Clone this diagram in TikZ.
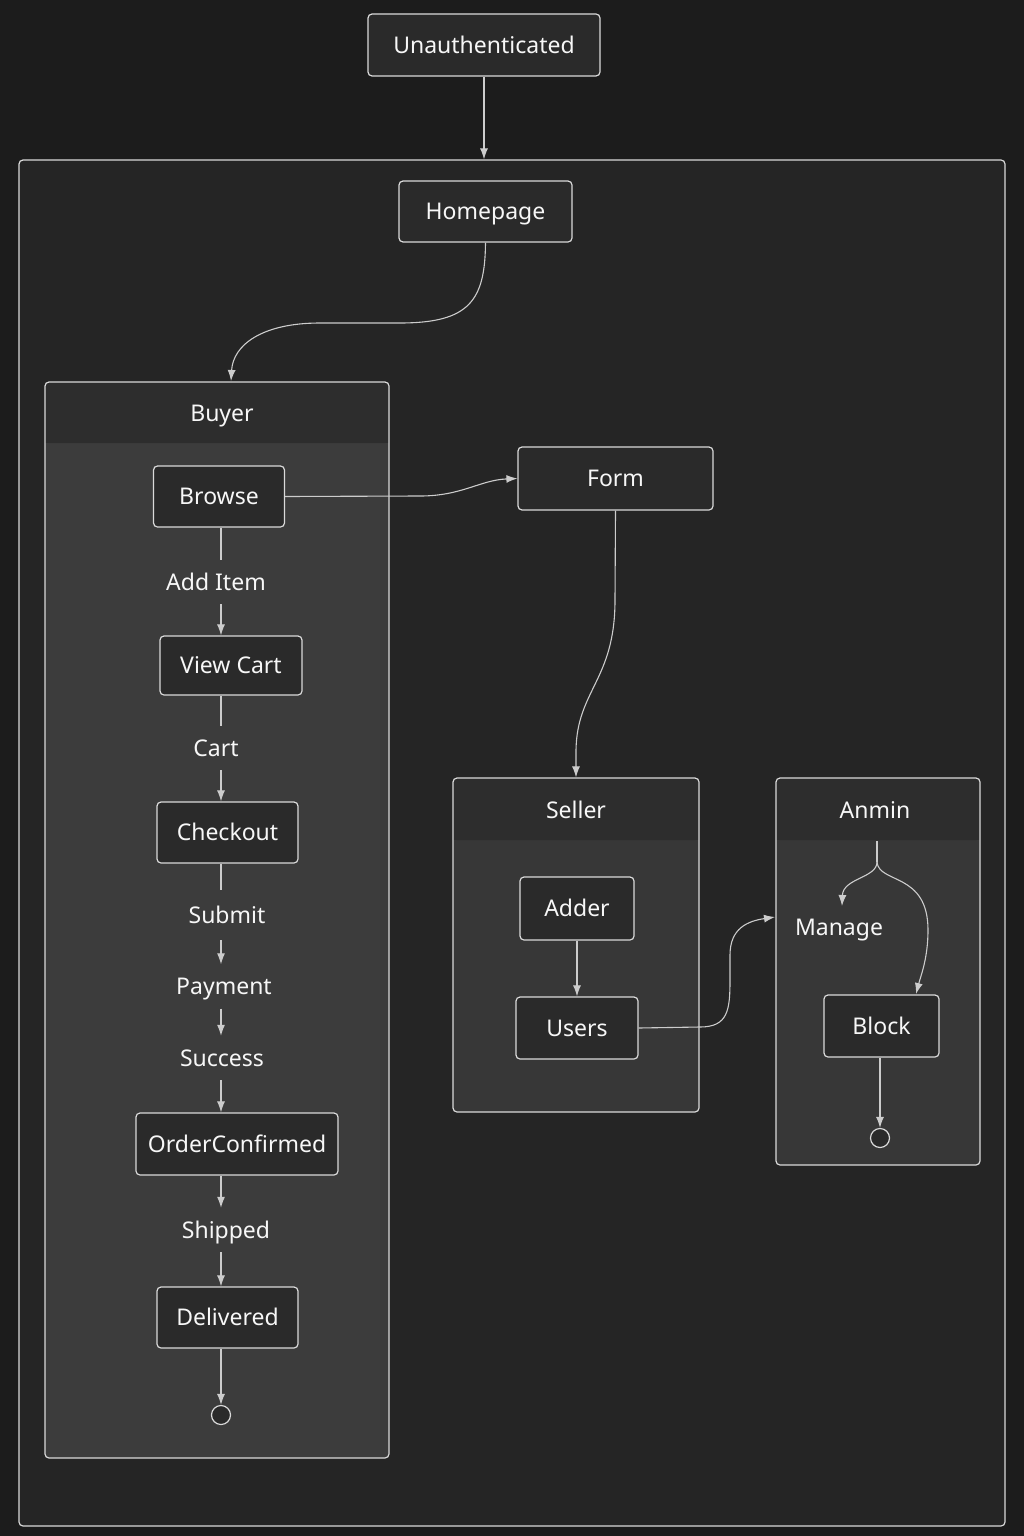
\documentclass[tikz,border=0pt]{standalone}
\usepackage{fontspec}
\setmainfont{Noto Sans}
\usetikzlibrary{arrows.meta}
\definecolor{bg}{HTML}{1C1C1C}
\definecolor{panel}{HTML}{252525}
\definecolor{boxfill}{HTML}{2A2A2A}
\definecolor{hdr}{HTML}{2D2D2D}
\definecolor{bodyc}{HTML}{3C3C3C}
\definecolor{bodys}{HTML}{373737}
\definecolor{edge}{HTML}{DADADA}
\definecolor{lnk}{HTML}{CCCCCC}
\definecolor{txt}{HTML}{F7F7F7}
\begin{document}
\begin{tikzpicture}[x=1pt,y=-1pt,
  txtfont/.style={text=txt, font=\fontsize{23}{27}\selectfont, text height=16.5pt, text depth=0pt},
  statebox/.style={txtfont, draw=edge, fill=boxfill, rounded corners=4pt, line width=1.2pt, inner sep=0pt},
  lbl/.style={txtfont, inner sep=0pt, minimum height=44pt},
  ttl/.style={txtfont, inner sep=0pt},
  frame/.style={draw=edge, rounded corners=4pt, line width=1.2pt, inner sep=0pt},
  endc/.style={circle, draw=edge, fill=boxfill, line width=1.2pt, minimum size=19pt, inner sep=0pt},
  conn/.style={draw=lnk, line width=1.1pt},
  arr/.style={conn, -{Latex[length=11pt,width=8pt]}}
]
% background
\fill[bg] (0,0) rectangle (1024,1536);
\useasboundingbox (0,0) rectangle (1024,1536);

% outer container
\fill[panel, rounded corners=4pt] (19,160) rectangle (1005,1526);
\node[frame, minimum width=986pt, minimum height=1366pt] (outer) at (512,843) {};

% top states
\node[statebox, minimum width=232pt, minimum height=62pt] (unauth) at (484,45) {Unauthenticated};
\node[statebox, minimum width=173pt, minimum height=61pt] (home) at (485.5,211.5) {Homepage};

% Buyer composite
\fill[bodyc, rounded corners=4pt] (45,382) rectangle (389,1458);
\fill[hdr, rounded corners=4pt] (45,382) rectangle (389,443);
\fill[hdr] (45,420) rectangle (389,443);
\node[frame, minimum width=344pt, minimum height=1076pt] (buyer) at (217,920) {};
\node[ttl] (buyerT) at (222,413) {Buyer};

% Seller composite
\fill[bodys, rounded corners=4pt] (453,778) rectangle (699,1112);
\fill[hdr, rounded corners=4pt] (453,778) rectangle (699,840);
\fill[hdr] (453,815) rectangle (699,840);
\node[frame, minimum width=246pt, minimum height=334pt] (seller) at (576,945) {};
\node[ttl] (sellerT) at (576,810) {Seller};

% Anmin composite
\fill[bodys, rounded corners=4pt] (776,778) rectangle (980,1165);
\fill[hdr, rounded corners=4pt] (776,778) rectangle (980,840);
\fill[hdr] (776,815) rectangle (980,840);
\node[frame, minimum width=204pt, minimum height=387pt] (anmin) at (878,971.5) {};
\node[ttl] (anminT) at (875,810) {Anmin};

% Buyer states
\coordinate (spine) at (221,0);
\node[statebox, minimum width=131pt, minimum height=61pt] (browse) at (219,496.5) {Browse};
\node[lbl] (additem) at (216,582) {Add Item};
\node[statebox, minimum width=142pt, minimum height=59pt] (viewcart) at (231,665.5) {View Cart};
\node[lbl] (cart) at (216,748) {Cart};
\node[statebox, minimum width=141pt, minimum height=61pt] (checkout) at (227.5,832.5) {Checkout};
\node[lbl, minimum height=50pt] (submit) at (227,915) {Submit};
\node[lbl] (payment) at (224,986.5) {Payment};
\node[lbl] (success) at (222,1058) {Success};
\node[statebox, minimum width=202pt, minimum height=62pt] (orderc) at (237,1144) {OrderConfirmed};
\node[lbl] (shipped) at (226,1230) {Shipped};
\node[statebox, minimum width=141pt, minimum height=61pt] (delivered) at (227.5,1317.5) {Delivered};
\node[endc] (end1) at (221,1415) {};

% Form
\node[statebox, minimum width=195pt, minimum height=63pt] (form) at (615.5,478.5) {Form};

% Seller states
\node[statebox, minimum width=114pt, minimum height=63pt] (adder) at (577,908.5) {Adder};
\node[statebox, minimum width=122pt, minimum height=62pt] (users) at (577,1028) {Users};

% Anmin states
\node[ttl] (manage) at (839,927) {Manage};
\node[statebox, minimum width=115pt, minimum height=62pt] (block) at (881.5,1026) {Block};
\node[endc] (end2) at (880,1138) {};

% free-end coordinates
\coordinate (buyerIn) at (231,381);
\coordinate (anminIn) at (775,917);
\coordinate (fork) at (877,841);
\coordinate (forkS) at (877,862);
\coordinate (manageIn) at (842,906);
\coordinate (blockIn) at (916,994);

% connectors
\draw[arr] (unauth.south) -- (unauth.south |- outer.north);
\draw[arr] (home.south) .. controls (485,300) and (470,323) .. (400,323) -- (320,323)
  .. controls (262,323) and (233,345) .. (buyerIn);

\draw[conn] (browse.south -| spine) -- (additem.north -| spine);
\draw[arr] (additem.south -| spine) -- (viewcart.north -| spine);
\draw[conn] (viewcart.south -| spine) -- (cart.north -| spine);
\draw[arr] (cart.south -| spine) -- (checkout.north -| spine);
\draw[conn] (checkout.south -| spine) -- (submit.north -| spine);
\draw[arr] (submit.south -| spine) -- (payment.north -| spine);
\draw[arr] (payment.south -| spine) -- (success.north -| spine);
\draw[arr] (success.south -| spine) -- (orderc.north -| spine);
\draw[arr] (orderc.south -| spine) -- (shipped.north -| spine);
\draw[arr] (shipped.south -| spine) -- (delivered.north -| spine);
\draw[arr] (delivered.south -| spine) -- (end1.north);

\draw[arr] (browse.east) -- (420,496) .. controls (462,496) and (480,480) .. (form.west);
\draw[arr] (form.south) -- (615,600) .. controls (615,680) and (577,690) .. (576,750) -- (seller.north);

\draw[arr] (adder.south) -- (users.north);
\draw[arr] (users.east) -- (700,1027) .. controls (728,1027) and (730,1010) .. (730,980)
  -- (730,955) .. controls (730,928) and (748,921) .. (anminIn);

\draw[conn] (fork) -- (forkS);
\draw[arr] (forkS) .. controls (877,878) and (843,878) .. (manageIn);
\draw[arr] (forkS) .. controls (879,884) and (928,872) .. (928,930) .. controls (928,958) and (921,975) .. (blockIn);
\draw[arr] (block.south -| end2) -- (end2.north);
\end{tikzpicture}
\end{document}
